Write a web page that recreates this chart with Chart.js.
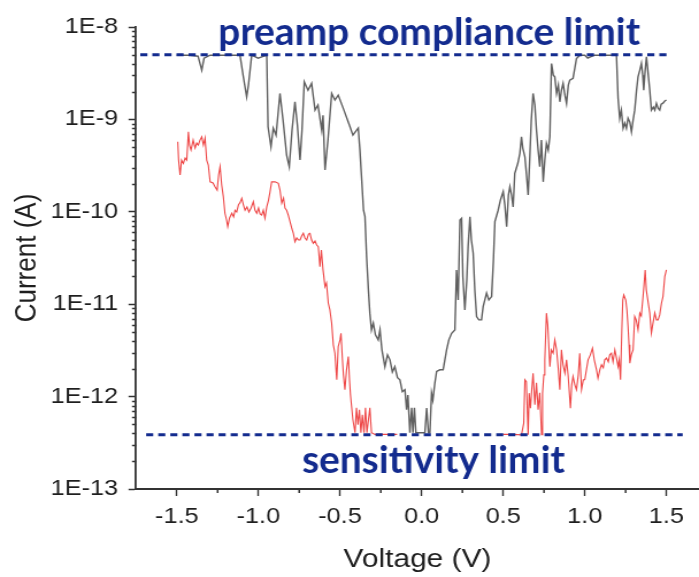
<!DOCTYPE html>
<html>
<head>
<meta charset="utf-8">
<script src="https://cdn.jsdelivr.net/npm/chart.js@4.4.1/dist/chart.umd.min.js"></script>
<style>
  html, body { margin: 0; padding: 0; background: #ffffff; }
  #wrap { width: 699px; height: 577px; overflow: hidden; }
  /* the figure is drawn on a narrower canvas and widened horizontally */
  #c { transform: scaleX(1.1497); transform-origin: 0 0; }
</style>
</head>
<body>
<div id="wrap"><canvas id="c" width="608" height="577"></canvas></div>
<script>
// Horizontal widening applied to the canvas (screen px per canvas px)
const SX = 699 / 608;

// Voltage sweep (V) and measured current (A), device trace (grey)
const grayV = [
  -1.500,-1.419,-1.370,-1.347,-1.333,-1.296,-1.205,-1.113,-1.094,-1.072,
  -1.061,-1.041,-1.002,-0.949,-0.941,-0.923,-0.909,-0.892,-0.868,-0.849,
  -0.827,-0.811,-0.794,-0.776,-0.761,-0.745,-0.733,-0.719,-0.696,-0.674,
  -0.653,-0.635,-0.612,-0.604,-0.592,-0.574,-0.551,-0.531,-0.511,-0.476,
  -0.439,-0.421,-0.398,-0.388,-0.378,-0.366,-0.356,-0.347,-0.337,-0.326,
  -0.317,-0.307,-0.296,-0.283,-0.266,-0.255,-0.243,-0.225,-0.209,-0.194,
  -0.179,-0.164,-0.148,-0.133,-0.118,-0.102,-0.092,-0.084,-0.072,-0.061,
  -0.053,-0.044,-0.035,-0.010,0.020,0.031,0.042,0.051,0.061,0.069,
  0.081,0.092,0.112,0.132,0.153,0.167,0.184,0.204,0.214,0.224,
  0.235,0.245,0.253,0.265,0.277,0.285,0.296,0.305,0.316,0.326,
  0.337,0.351,0.367,0.377,0.398,0.412,0.429,0.440,0.449,0.469,
  0.483,0.500,0.510,0.521,0.532,0.541,0.551,0.561,0.571,0.590,
  0.602,0.612,0.620,0.633,0.643,0.653,0.663,0.672,0.683,0.694,
  0.704,0.714,0.724,0.734,0.745,0.755,0.765,0.776,0.786,0.796,
  0.807,0.816,0.827,0.838,0.847,0.857,0.867,0.878,0.888,0.899,
  0.908,0.928,0.939,0.949,0.969,1.000,1.018,1.031,1.061,1.122,
  1.194,1.204,1.214,1.224,1.235,1.245,1.255,1.265,1.276,1.286,
  1.296,1.306,1.317,1.326,1.337,1.347,1.355,1.361,1.370,1.378,
  1.386,1.398,1.408,1.420,1.429,1.439,1.449,1.459,1.468,1.479,1.490,1.500
];
const grayI = [
  4.95e-9,4.95e-9,4.83e-9,3.41e-9,4.60e-9,4.95e-9,4.95e-9,4.95e-9,3.01e-9,1.75e-9,
  2.35e-9,4.95e-9,4.60e-9,4.95e-9,8.32e-10,5.06e-10,8.05e-10,6.76e-10,1.91e-9,9.82e-10,
  4.11e-10,3.08e-10,7.66e-10,1.55e-9,8.67e-10,3.63e-10,7.66e-10,2.55e-9,2.07e-9,2.45e-9,
  1.26e-9,1.43e-9,7.66e-10,1.11e-9,2.83e-10,5.97e-10,1.91e-9,1.62e-9,1.83e-9,1.26e-9,
  8.32e-10,6.76e-10,7.66e-10,8.05e-10,4.66e-10,2.05e-10,1.04e-10,8.85e-11,3.27e-11,1.43e-11,
  8.0e-12,5.27e-12,6.23e-12,4.66e-12,4.11e-12,5.27e-12,3.21e-12,2.11e-12,2.83e-12,2.50e-12,
  1.85e-12,2.11e-12,1.60e-12,1.52e-12,1.13e-12,1.19e-12,7.2e-13,1.04e-12,4.06e-13,7.57e-13,
  4.06e-13,7.57e-13,4.06e-13,4.06e-13,4.06e-13,7.5e-13,4.06e-13,4.06e-13,1.09e-12,9.2e-13,
  1.40e-12,1.87e-12,1.95e-12,1.95e-12,3.21e-12,4.11e-12,4.85e-12,5.27e-12,2.35e-11,1.11e-11,
  8.15e-11,8.5e-11,1.99e-11,8.67e-12,1.83e-11,4.20e-11,8.85e-11,4.95e-11,3.56e-11,1.43e-11,
  7.35e-12,6.76e-12,6.76e-12,9.42e-12,1.32e-11,1.11e-11,1.21e-11,3.01e-11,7.82e-11,1.04e-10,
  1.34e-10,1.65e-10,1.19e-10,6.9e-11,1.52e-10,1.87e-10,1.52e-10,1.13e-10,2.61e-10,3.37e-10,
  4.29e-10,6.48e-10,4.9e-10,3.94e-10,2.50e-10,1.52e-10,3.94e-10,9.8e-10,1.91e-9,1.43e-9,
  7.66e-10,4.66e-10,3.08e-10,5.97e-10,2.11e-10,3.63e-10,5.5e-10,4.66e-10,6.48e-10,4.03e-9,
  3.01e-9,2.89e-9,1.91e-9,2.35e-9,1.55e-9,2.07e-9,2.45e-9,1.83e-9,1.49e-9,2.35e-9,
  2.66e-9,2.79e-9,3.59e-9,4.56e-9,4.95e-9,4.95e-9,4.60e-9,4.72e-9,4.95e-9,4.95e-9,
  4.95e-9,1.69e-9,1.03e-9,1.26e-9,8.0e-10,9.12e-10,8.0e-10,1.03e-9,9.35e-10,7.35e-10,
  9.8e-10,1.26e-9,2.07e-9,2.89e-9,3.41e-9,4.03e-9,3.01e-9,2.07e-9,3.41e-9,4.75e-9,
  3.41e-9,2.07e-9,1.26e-9,1.36e-9,1.26e-9,1.49e-9,1.32e-9,1.26e-9,1.46e-9,1.50e-9,1.58e-9,1.62e-9
];

// Second device trace (red); null marks the stretch with no reading above the floor
const redV = [
  -1.494,-1.489,-1.480,-1.471,-1.460,-1.449,-1.439,-1.429,-1.422,-1.413,
  -1.400,-1.388,-1.378,-1.368,-1.358,-1.347,-1.337,-1.327,-1.317,-1.307,
  -1.296,-1.278,-1.266,-1.253,-1.244,-1.235,-1.225,-1.215,-1.205,-1.195,
  -1.188,-1.177,-1.163,-1.152,-1.143,-1.133,-1.122,-1.113,-1.102,-1.092,
  -1.082,-1.070,-1.058,-1.045,-1.031,-1.021,-1.010,-0.999,-0.990,-0.980,
  -0.970,-0.960,-0.949,-0.938,-0.929,-0.919,-0.898,-0.878,-0.868,-0.857,
  -0.846,-0.837,-0.827,-0.817,-0.806,-0.796,-0.786,-0.776,-0.765,-0.754,
  -0.745,-0.735,-0.725,-0.715,-0.704,-0.693,-0.684,-0.674,-0.664,-0.653,
  -0.643,-0.633,-0.623,-0.614,-0.604,-0.592,-0.583,-0.572,-0.562,-0.551,
  -0.541,-0.531,-0.520,-0.511,-0.500,-0.494,-0.485,-0.479,-0.470,-0.460,
  -0.449,-0.442,-0.436,-0.429,-0.421,-0.408,-0.399,-0.390,-0.381,-0.372,
  -0.363,-0.353,-0.344,-0.335,-0.317,-0.307,-0.286,-0.255,-0.200,-0.150,
  -0.140,0.500,0.560,0.612,
  0.626,0.633,0.642,0.653,0.659,0.667,0.675,0.683,0.694,0.704,
  0.714,0.724,0.735,0.741,0.749,0.755,0.765,0.773,0.786,0.795,
  0.806,0.816,0.827,0.838,0.847,0.857,0.867,0.878,0.888,0.898,
  0.912,0.920,0.928,0.939,0.949,0.960,0.969,0.980,0.991,1.000,
  1.010,1.020,1.034,1.047,1.058,1.072,1.081,1.092,1.102,1.113,
  1.122,1.133,1.144,1.153,1.163,1.173,1.184,1.194,1.204,1.211,
  1.219,1.227,1.233,1.239,1.251,1.258,1.265,1.271,1.276,1.285,
  1.296,1.302,1.306,1.315,1.326,1.337,1.346,1.357,1.363,1.370,
  1.377,1.386,1.398,1.408,1.416,1.429,1.439,1.449,1.459,1.470,1.479,1.490,1.500
];
const redI = [
  5.73e-10,3.63e-10,2.50e-10,3.63e-10,3.34e-10,3.82e-10,3.63e-10,7.35e-10,5.27e-10,4.66e-10,
  5.97e-10,4.9e-10,5.54e-10,5.27e-10,5.97e-10,6.48e-10,5.27e-10,6.28e-10,3.63e-10,3.21e-10,
  2.11e-10,2.05e-10,1.87e-10,1.72e-10,2.50e-10,3.08e-10,1.95e-10,1.46e-10,9.64e-11,8.15e-11,
  6.9e-11,8.57e-11,9.64e-11,8.79e-11,1.04e-10,9.95e-11,1.19e-10,1.25e-10,1.40e-10,1.19e-10,
  1.04e-10,1.13e-10,9.95e-11,1.10e-10,1.29e-10,1.04e-10,9.64e-11,1.10e-10,9.46e-11,9.22e-11,
  1.04e-10,8.51e-11,1.13e-10,1.34e-10,1.64e-10,2.11e-10,2.11e-10,2.03e-10,1.72e-10,1.24e-10,
  1.41e-10,1.10e-10,1.04e-10,9.22e-11,7.76e-11,6.68e-11,5.86e-11,4.75e-11,5.21e-11,4.95e-11,
  4.95e-11,5.47e-11,5.86e-11,5.21e-11,4.95e-11,5.75e-11,5.86e-11,4.95e-11,4.56e-11,4.83e-11,
  4.37e-11,4.20e-11,2.55e-11,3.86e-11,2.35e-11,1.55e-11,1.70e-11,1.03e-11,8.67e-12,6.23e-12,
  3.63e-12,2.95e-12,1.52e-12,3.48e-12,4.11e-12,4.85e-12,2.50e-12,1.72e-12,1.19e-12,1.95e-12,
  2.71e-12,1.52e-12,1.05e-12,7.82e-13,5.61e-13,4.06e-13,7.57e-13,4.95e-13,7.2e-13,4.06e-13,
  6.35e-13,4.06e-13,7.57e-13,4.06e-13,7.57e-13,4.06e-13,3.9e-13,3.9e-13,3.9e-13,3.9e-13,
  null,3.9e-13,3.9e-13,3.86e-13,
  5.17e-13,1.52e-12,1.45e-12,3.86e-13,1.09e-12,7.5e-13,1.19e-12,1.79e-12,8.15e-13,1.41e-12,
  7.2e-13,1.10e-12,3.86e-13,1.09e-12,1.72e-12,2.50e-12,8.0e-12,5.97e-12,2.11e-12,3.21e-12,
  2.95e-12,4.11e-12,3.21e-12,1.95e-12,1.19e-12,3.21e-12,2.21e-12,1.79e-12,2.50e-12,1.68e-12,
  7.5e-13,1.34e-12,1.65e-12,1.34e-12,1.19e-12,1.72e-12,2.95e-12,1.19e-12,1.52e-12,1.52e-12,
  1.95e-12,2.50e-12,2.83e-12,3.34e-12,2.50e-12,1.95e-12,1.58e-12,1.95e-12,2.21e-12,2.05e-12,
  2.50e-12,2.61e-12,2.38e-12,2.83e-12,2.95e-12,2.38e-12,3.21e-12,2.62e-12,2.11e-12,2.50e-12,
  1.52e-12,5.27e-12,1.11e-11,1.26e-11,1.11e-11,8.67e-12,5.73e-12,3.63e-12,2.30e-12,2.83e-12,
  3.21e-12,5.27e-12,7.35e-12,6.76e-12,5.27e-12,8.0e-12,7.48e-12,1.21e-11,1.62e-11,2.35e-11,
  1.43e-11,1.11e-11,8.0e-12,4.85e-12,5.97e-12,8.05e-12,6.76e-12,6.76e-12,7.66e-12,1.03e-11,1.21e-11,1.99e-11,2.35e-11
];

// Instrument limits (A) and the voltage span each reference line covers
const complianceLimit = 5e-9;
const complianceSpan = [-1.724, 1.521];
const sensitivityLimit = 3.86e-13;
const sensitivitySpan = [-1.688, 1.600];
const limitLabels = ['preamp compliance limit', 'sensitivity limit'];
const limitLabelStartV = [-1.247, -0.733];

// Axis ticks
const xTickValues = [-1.5, -1.0, -0.5, 0.0, 0.5, 1.0, 1.5];
const xTickLabels = ['-1.5', '-1.0', '-0.5', '0.0', '0.5', '1.0', '1.5'];
const xMinorTicks = [-1.25, -0.75, -0.25, 0.25, 0.75, 1.25];
const yTickValues = [1e-13, 1e-12, 1e-11, 1e-10, 1e-9, 1e-8];
const yTickLabels = ['1E-13', '1E-12', '1E-11', '1E-10', '1E-9', '1E-8'];
const yMinorMultipliers = [2, 3, 4, 5, 6, 7, 8, 9];

const NAVY = '#132b8e';
const AXIS = '#333333';
const TEXT = '#1e1e1e';
const SANS = "'Liberation Sans', Arial, sans-serif";

const toPoints = (xs, ys) => xs.map((x, i) => ({ x: x, y: ys[i] }));

// Minor tick marks on both axes
const minorTicks = {
  id: 'minorTicks',
  afterDraw(chart) {
    const { ctx, scales: { x, y } } = chart;
    ctx.save();
    ctx.strokeStyle = AXIS;
    ctx.lineWidth = 1.5;
    ctx.beginPath();
    xMinorTicks.forEach(v => {
      const px = x.getPixelForValue(v);
      ctx.moveTo(px, y.bottom);
      ctx.lineTo(px, y.bottom + 4);
    });
    for (let k = -13; k < -8; k++) {
      yMinorMultipliers.forEach(m => {
        const py = Math.round(y.getPixelForValue(m * Math.pow(10, k))) + 0.5;
        ctx.moveTo(x.left, py);
        ctx.lineTo(x.left - 4 / SX, py);
      });
    }
    ctx.stroke();
    ctx.restore();
  }
};

// Captions for the two instrument limit lines (kept at natural proportions)
const limitCaptions = {
  id: 'limitCaptions',
  afterDatasetsDraw(chart) {
    const { ctx, scales: { x, y } } = chart;
    ctx.save();
    ctx.fillStyle = NAVY;
    ctx.textBaseline = 'alphabetic';
    ctx.textAlign = 'left';
    ctx.font = 'bold 100px Lato';
    const w100 = ctx.measureText(limitLabels[0]).width;
    const size = 100 * 422 / w100;
    ctx.font = 'bold ' + size.toFixed(2) + 'px Lato';
    const rows = [
      [limitLabels[0], x.getPixelForValue(limitLabelStartV[0]), y.getPixelForValue(complianceLimit) - 10],
      [limitLabels[1], x.getPixelForValue(limitLabelStartV[1]), y.getPixelForValue(sensitivityLimit) + 38]
    ];
    rows.forEach(([t, px, py]) => {
      ctx.save();
      ctx.translate(px, py);
      ctx.scale(1 / SX, 1);
      ctx.fillText(t, 0, 0);
      ctx.restore();
    });
    ctx.restore();
  }
};

new Chart(document.getElementById('c'), {
  type: 'line',
  data: {
    datasets: [
      {
        data: toPoints(complianceSpan, [complianceLimit, complianceLimit]),
        borderColor: NAVY, borderWidth: 3, borderDash: [6.2, 4.3], pointRadius: 0
      },
      {
        data: toPoints(sensitivitySpan, [sensitivityLimit, sensitivityLimit]),
        borderColor: NAVY, borderWidth: 3, borderDash: [6.2, 4.3], pointRadius: 0
      },
      {
        data: toPoints(grayV, grayI),
        borderColor: '#606060', borderWidth: 1.4, pointRadius: 0, tension: 0, spanGaps: false
      },
      {
        data: toPoints(redV, redI),
        borderColor: '#ee4848', borderWidth: 1.1, pointRadius: 0, tension: 0, spanGaps: false
      }
    ]
  },
  options: {
    responsive: false,
    devicePixelRatio: 1,
    animation: false,
    layout: { padding: { top: 27, left: 0, right: 0, bottom: 0 } },
    plugins: { legend: { display: false }, tooltip: { enabled: false } },
    scales: {
      x: {
        type: 'linear',
        min: -1.75,
        max: 1.70,
        afterBuildTicks: s => { s.ticks = xTickValues.map(v => ({ value: v })); },
        afterFit: s => { s.height = 88; },
        grid: { display: true, drawOnChartArea: false, drawTicks: true, tickLength: 7, tickWidth: 1.4, tickColor: AXIS, color: AXIS },
        border: { display: true, color: AXIS, width: 2 },
        ticks: {
          autoSkip: false, maxRotation: 0, padding: 8, color: TEXT,
          font: { family: SANS, size: 22 },
          callback: (v, i) => xTickLabels[i]
        },
        title: {
          display: true, text: 'Voltage (V)', color: TEXT,
          font: { family: SANS, size: 26 },
          padding: { top: 0, bottom: 2 }
        }
      },
      y: {
        type: 'logarithmic',
        min: 1e-13,
        max: 1e-8,
        afterBuildTicks: s => { s.ticks = yTickValues.map(v => ({ value: v })); },
        afterFit: s => { s.width = 136 / SX; },
        grid: { display: true, drawOnChartArea: false, drawTicks: true, tickLength: 6.5, tickWidth: 1.5, tickColor: AXIS, color: AXIS },
        border: { display: true, color: AXIS, width: 1.8 },
        ticks: {
          autoSkip: false, padding: 9, color: TEXT,
          font: { family: SANS, size: 22 },
          callback: (v, i) => yTickLabels[i]
        },
        title: {
          display: true, text: 'Current (A)', color: TEXT,
          font: { family: SANS, size: 26 },
          padding: { top: 8, bottom: 0 }
        }
      }
    }
  },
  plugins: [minorTicks, limitCaptions]
});
</script>
</body>
</html>
